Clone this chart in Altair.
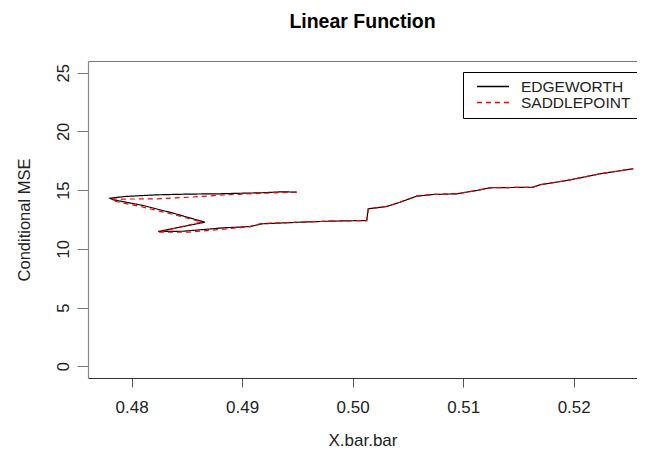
import altair as alt
import pandas as pd

series_names = ["EDGEWORTH", "SADDLEPOINT"]

edge_x = [0.49493, 0.49357, 0.49191, 0.48784, 0.48498, 0.48226, 0.47939, 0.47804,
          0.47833, 0.48105, 0.48376, 0.48663, 0.48241, 0.48467, 0.48829, 0.49071,
          0.49176, 0.49524, 0.49795, 0.50096, 0.50127, 0.50141, 0.50308, 0.50428,
          0.50579, 0.50729, 0.50941, 0.51122, 0.51243, 0.51634, 0.51695, 0.51937,
          0.52238, 0.52539]
edge_y = [14.83, 14.86, 14.78, 14.69, 14.66, 14.60, 14.46, 14.31,
          14.18, 13.69, 13.04, 12.27, 11.48, 11.50, 11.79, 11.90,
          12.13, 12.27, 12.36, 12.41, 12.41, 13.41, 13.61, 13.97,
          14.49, 14.63, 14.69, 14.97, 15.20, 15.25, 15.46, 15.82,
          16.39, 16.82]

saddle_x = [0.49493, 0.49191, 0.48829, 0.48528, 0.48226, 0.47900, 0.47820,
            0.47833, 0.48105, 0.48376, 0.48635, 0.48241, 0.48528, 0.48829,
            0.49071, 0.49176, 0.49524, 0.49795, 0.50096, 0.50127, 0.50141,
            0.50308, 0.50428, 0.50579, 0.50729, 0.50941, 0.51122, 0.51243,
            0.51634, 0.51695, 0.51937, 0.52238, 0.52539]
saddle_y = [14.83, 14.74, 14.59, 14.40, 14.26, 14.24, 14.25,
            14.08, 13.55, 12.93, 12.29, 11.42, 11.43, 11.68,
            11.90, 12.17, 12.27, 12.36, 12.41, 12.41, 13.41,
            13.61, 13.97, 14.49, 14.63, 14.69, 14.97, 15.20,
            15.25, 15.46, 15.82, 16.39, 16.82]

x_ticks = [0.48, 0.49, 0.50, 0.51, 0.52]
y_ticks = [0, 5, 10, 15, 20, 25]

rows = []
for i, (a, b) in enumerate(zip(edge_x, edge_y)):
    rows.append({"series": series_names[0], "idx": i, "x": a, "y": b})
for i, (a, b) in enumerate(zip(saddle_x, saddle_y)):
    rows.append({"series": series_names[1], "idx": i, "x": a, "y": b})
df = pd.DataFrame(rows)

FONT = "Liberation Sans"

x_scale = alt.Scale(domain=[0.47605, 0.52573], nice=False, zero=False)
y_scale = alt.Scale(domain=[-1, 26], nice=False, zero=False)

y_axis = alt.Axis(values=y_ticks, title="Conditional MSE", grid=False,
                  domain=True, domainColor="#888", domainWidth=1.2,
                  tickSize=11, tickColor="#777",
                  labelAngle=270, labelFontSize=16.5, labelColor="#222",
                  labelPadding=6, labelFont=FONT, titleFont=FONT,
                  titleFontSize=16.5, titleFontWeight="normal",
                  titleColor="#222", titlePadding=23)

color_enc = alt.Color(
    "series:N",
    scale=alt.Scale(domain=series_names, range=["#000000", "#ff0000"]),
    legend=alt.Legend(title=None, orient="none", legendX=375, legendY=11,
                      strokeColor="#000", fillColor="#fff",
                      padding=7, symbolType="stroke", symbolSize=1024,
                      symbolStrokeWidth=1.5, symbolOffset=6,
                      clipHeight=15, rowPadding=0,
                      labelFontSize=15.5, labelFont=FONT,
                      labelColor="#222", labelOffset=11))
dash_enc = alt.StrokeDash(
    "series:N",
    scale=alt.Scale(domain=series_names, range=[[1, 0], [5, 4]]),
    legend=None)

base = alt.Chart(df)

edge_layer = base.transform_filter(
    alt.datum.series == series_names[0]
).mark_line(strokeWidth=1.2).encode(
    x=alt.X("x:Q", scale=x_scale,
            axis=alt.Axis(values=x_ticks, format=".2f", title="X.bar.bar",
                          grid=False, domain=True, domainColor="#333",
                          domainWidth=1.2, tickSize=9, tickColor="#555",
                          labelFontSize=17, labelColor="#222", labelPadding=12,
                          labelFont=FONT, titleFont=FONT, titleFontSize=17,
                          titleFontWeight="normal", titleColor="#222",
                          titlePadding=17)),
    y=alt.Y("y:Q", scale=y_scale, axis=y_axis),
    color=color_enc,
    strokeDash=dash_enc,
    order=alt.Order("idx:Q"),
)

saddle_layer = base.transform_filter(
    alt.datum.series == series_names[1]
).mark_line(strokeWidth=1.2).encode(
    x=alt.X("x:Q", scale=x_scale,
            axis=alt.Axis(orient="top", labels=False, ticks=False, title=None,
                          grid=False, domain=True, domainColor="#777",
                          domainWidth=1.2)),
    y=alt.Y("y:Q", scale=y_scale, axis=y_axis),
    color=color_enc,
    strokeDash=dash_enc,
    order=alt.Order("idx:Q"),
)

chart = alt.layer(edge_layer, saddle_layer).resolve_axis(
    x="independent"
).properties(
    width=549,
    height=317,
    title=alt.Title("Linear Function", fontSize=19.5, fontWeight="bold",
                    font=FONT, color="#000", offset=29, anchor="middle"),
    padding={"left": 80, "top": 53, "right": 0, "bottom": 71},
    autosize=alt.AutoSizeParams(type="none"),
).configure_view(stroke=None)

chart.save("out.html", embed_options={"renderer": "svg", "actions": False})
